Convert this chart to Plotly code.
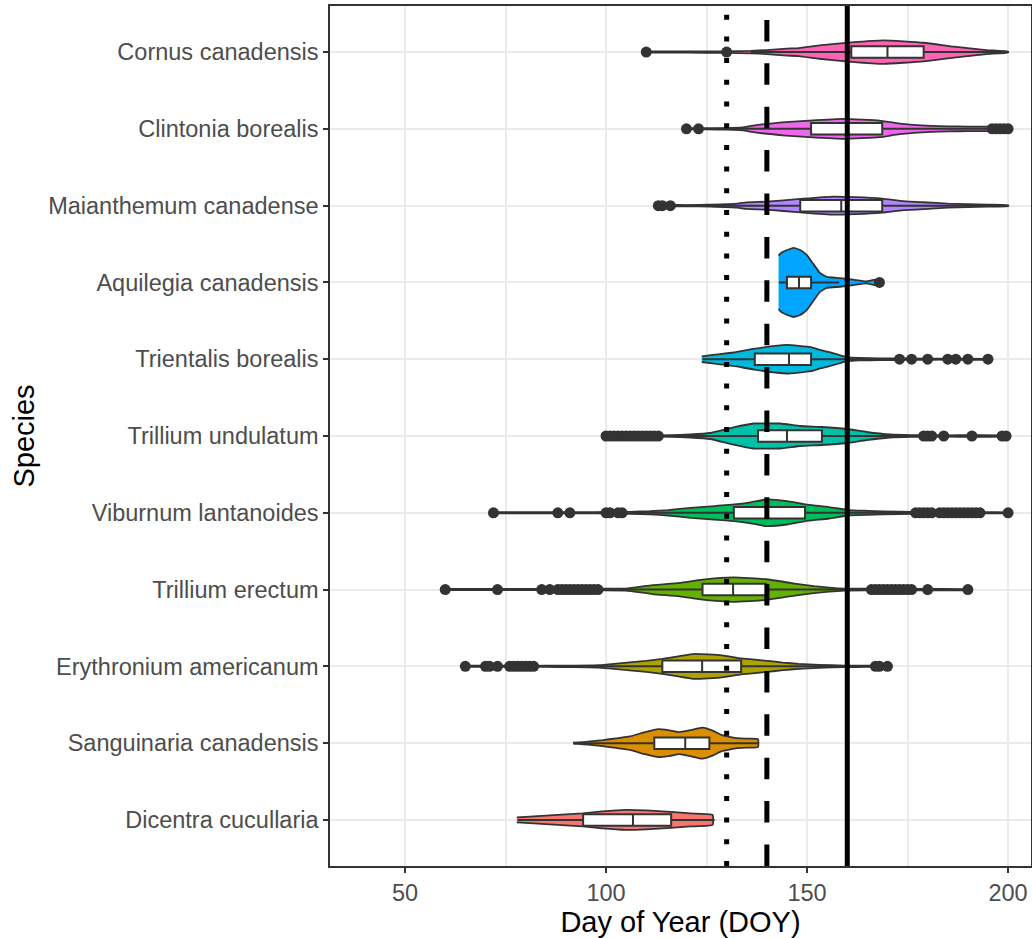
import plotly.graph_objects as go

# ---------------- data ----------------
species = ["Dicentra cucullaria", "Sanguinaria canadensis", "Erythronium americanum",
           "Trillium erectum", "Viburnum lantanoides", "Trillium undulatum",
           "Trientalis borealis", "Aquilegia canadensis", "Maianthemum canadense",
           "Clintonia borealis", "Cornus canadensis"]

colors = ["#F8766D", "#DB8E00", "#AEA200", "#64B200", "#00BD5C", "#00C1A7",
          "#00BADE", "#00A6FF", "#B385FF", "#EF67EB", "#FF63B6"]

# violin density profiles (relative density, max = 1)
dicentra_doy = [77.8, 82, 86, 90, 94.2, 99, 104.9, 110, 116.1, 121, 126.5]
dicentra_dens = [0.072, 0.101, 0.130, 0.159, 0.188, 0.246, 0.290, 0.275, 0.232, 0.188, 0.145]

sanguinaria_doy = [91.8, 95.5, 99.2, 102.5, 105.9, 109.7, 113, 115.5, 118.3, 121, 124, 126.5, 128.8, 132.6, 135.5, 137.8]
sanguinaria_dens = [0.014, 0.043, 0.087, 0.139, 0.194, 0.319, 0.406, 0.377, 0.319, 0.377, 0.449, 0.362, 0.232, 0.145, 0.130, 0.116]

erythronium_doy = [65, 75, 85, 92, 98.2, 102, 105.9, 110, 114, 118, 122.1, 128.8, 133.6, 140.2, 144, 147.9, 153, 159.3, 165, 170.5]
erythronium_dens = [0.017, 0.017, 0.017, 0.023, 0.035, 0.072, 0.116, 0.159, 0.217, 0.290, 0.362, 0.319, 0.232, 0.159, 0.110, 0.072, 0.043, 0.023, 0.017, 0.014]

t_erectum_doy = [60, 75, 90, 98, 104.9, 111.6, 118.3, 124, 131.7, 139.8, 146.9, 151.7, 155.5, 159.3, 166, 175, 190]
t_erectum_dens = [0.017, 0.017, 0.017, 0.023, 0.029, 0.130, 0.194, 0.290, 0.354, 0.299, 0.174, 0.101, 0.058, 0.029, 0.023, 0.017, 0.012]

viburnum_doy = [72, 85, 95, 100, 105.9, 111, 115.4, 121.1, 126, 131.9, 136, 139.8, 145, 149.6, 155.5, 160.3, 165, 168.9, 176.5, 185, 194, 200]
viburnum_dens = [0.017, 0.017, 0.017, 0.023, 0.029, 0.046, 0.078, 0.145, 0.188, 0.241, 0.304, 0.386, 0.339, 0.241, 0.165, 0.078, 0.058, 0.043, 0.029, 0.023, 0.017, 0.012]

t_undulatum_doy = [100, 110, 116, 121, 125.9, 131.7, 136.7, 143.3, 148.3, 153.7, 159.9, 164.8, 170.6, 176, 185, 199.5]
t_undulatum_dens = [0.017, 0.017, 0.023, 0.043, 0.087, 0.252, 0.362, 0.362, 0.290, 0.261, 0.203, 0.116, 0.043, 0.026, 0.020, 0.012]

trientalis_doy = [123.8, 127, 131.7, 137, 144.9, 150.9, 153.5, 156.5, 159.9, 163, 168, 175, 185, 195]
trientalis_dens = [0.081, 0.130, 0.194, 0.304, 0.414, 0.348, 0.261, 0.174, 0.058, 0.035, 0.026, 0.020, 0.014, 0.009]

aquilegia_doy = [142.9, 143.6, 144.9, 146.6, 148.3, 149.9, 151.6, 153.2, 154.9, 158.2, 161.5, 164.8, 166.5, 168]
aquilegia_dens = [0.774, 0.86, 0.93, 1.0, 0.94, 0.80, 0.53, 0.275, 0.159, 0.125, 0.078, 0.029, 0.072, 0.058]

maianthemum_doy = [113, 116, 120, 126, 132.6, 135, 140, 148.3, 156.5, 162, 168.7, 174, 181, 185, 190, 195, 200]
maianthemum_dens = [0.023, 0.023, 0.017, 0.029, 0.058, 0.096, 0.116, 0.194, 0.261, 0.246, 0.203, 0.130, 0.087, 0.058, 0.043, 0.029, 0.012]

clintonia_doy = [120, 125, 130, 134, 136.6, 144.7, 150.6, 159.3, 168, 173, 181, 185, 190, 195, 200]
clintonia_dens = [0.017, 0.017, 0.023, 0.043, 0.096, 0.194, 0.241, 0.290, 0.241, 0.154, 0.087, 0.072, 0.067, 0.064, 0.052]

cornus_doy = [110, 120, 130, 136, 140, 145, 148, 153, 161, 169, 179, 186.5, 194.6, 200]
cornus_dens = [0.017, 0.017, 0.023, 0.035, 0.058, 0.101, 0.116, 0.194, 0.281, 0.339, 0.270, 0.159, 0.058, 0.014]

# box-plot statistics (same order as species)
q1 = [94.3, 112, 114, 124, 131.8, 137.8, 137, 145, 148.3, 151, 161]
median = [106.7, 119.7, 123.9, 131.6, 140, 145, 145.5, 148, 158.5, 160, 170]
q3 = [116.2, 125.7, 133.6, 139.8, 149.5, 153.7, 151, 151, 168.7, 168.7, 179]
lower_whisker = [78, 92, 86, 101, 106, 115, 124, 143, 118, 127, 136]
upper_whisker = [127, 138, 162, 163, 176, 177, 170, 158, 199, 195, 200]

# outliers
dicentra_out = []
sanguinaria_out = []
erythronium_out = [65, 70, 71, 73, 76, 77, 78, 79, 80, 81, 82, 167, 168, 170]
t_erectum_out = [60, 73, 84, 86, 88, 89, 90, 91, 92, 93, 94, 95, 96, 97, 98,
                 166, 167, 168, 169, 170, 171, 172, 173, 174, 175, 176, 180, 190]
viburnum_out = [72, 88, 91, 100, 101, 103, 104,
                177, 178, 179, 180, 181, 183, 184, 185, 186, 187, 188, 189, 190, 191, 192, 193, 200]
t_undulatum_out = [100, 101, 102, 103, 104, 105, 106, 107, 108, 109, 110, 111, 112, 113,
                   179, 180, 181, 184, 191, 198.5, 199.5]
trientalis_out = [173, 176, 180, 185, 187, 190, 195]
aquilegia_out = [168]
maianthemum_out = [113, 114, 116]
clintonia_out = [120, 123, 196, 197, 198, 199, 200]
cornus_out = [110, 130]

# reference lines (DOY) and their line types
ref_lines = [130, 140, 160]
ref_dash = ["5px,16.7px", "21.5px,21.9px", "solid"]

profiles_doy = [dicentra_doy, sanguinaria_doy, erythronium_doy, t_erectum_doy, viburnum_doy,
                t_undulatum_doy, trientalis_doy, aquilegia_doy, maianthemum_doy, clintonia_doy, cornus_doy]
profiles_dens = [dicentra_dens, sanguinaria_dens, erythronium_dens, t_erectum_dens, viburnum_dens,
                 t_undulatum_dens, trientalis_dens, aquilegia_dens, maianthemum_dens, clintonia_dens, cornus_dens]
outliers = [dicentra_out, sanguinaria_out, erythronium_out, t_erectum_out, viburnum_out,
            t_undulatum_out, trientalis_out, aquilegia_out, maianthemum_out, clintonia_out, cornus_out]

# ---------------- styles ----------------
VIOLIN_WIDTH = 0.9
BOX_WIDTH = 0.15
OUTLINE = "#333333"
FONT = "Liberation Sans, Arial, sans-serif"
XRANGE = [31.34, 205.7]
YRANGE = [0.4, 11.6]

fig = go.Figure()

# violins on the main axes
for i, name in enumerate(species):
    pos = i + 1
    half = [VIOLIN_WIDTH / 2 * d for d in profiles_dens[i]]
    xs = profiles_doy[i] + profiles_doy[i][::-1]
    ys = [pos + h for h in half] + [pos - h for h in half[::-1]]
    fig.add_trace(go.Scatter(
        x=xs, y=ys, mode="lines", fill="toself", fillcolor=colors[i],
        line=dict(color=OUTLINE, width=1.8, shape="spline", smoothing=0.4),
        hoverinfo="skip", showlegend=False, name=name))

# boxes + outliers on an overlaid pair of axes (drawn above violins)
for i, name in enumerate(species):
    pos = i + 1
    fig.add_trace(go.Box(
        y=[pos], q1=[q1[i]], median=[median[i]], q3=[q3[i]],
        lowerfence=[lower_whisker[i]], upperfence=[upper_whisker[i]],
        orientation="h", width=BOX_WIDTH, whiskerwidth=0, fillcolor="white",
        line=dict(color=OUTLINE, width=2), boxpoints=False,
        xaxis="x2", yaxis="y2", hoverinfo="skip", showlegend=False, name=name))
    if outliers[i]:
        fig.add_trace(go.Scatter(
            x=outliers[i], y=[pos] * len(outliers[i]), mode="markers",
            marker=dict(color=OUTLINE, size=11, line=dict(width=0)),
            xaxis="x2", yaxis="y2", hoverinfo="skip", showlegend=False, name=name))

for xv, dash in zip(ref_lines, ref_dash):
    fig.add_shape(type="line", xref="x", yref="paper", x0=xv, x1=xv, y0=0, y1=1,
                  line=dict(color="black", width=5, dash=dash), layer="above")

axis_common = dict(
    showline=True, linecolor=OUTLINE, linewidth=1.5, mirror=True,
    ticks="outside", ticklen=5, tickwidth=1.5, tickcolor=OUTLINE,
    showgrid=True, gridcolor="#EBEBEB", gridwidth=2, zeroline=False, automargin=False,
    tickfont=dict(family=FONT, size=23.5, color="#4D4D4D"),
)

fig.update_layout(
    width=1032, height=938,
    margin=dict(l=330, r=1, t=6, b=72),
    plot_bgcolor="white", paper_bgcolor="white",
    showlegend=False,
    font=dict(family=FONT),
    xaxis=dict(range=XRANGE, tickvals=[50, 100, 150, 200],
               minor=dict(dtick=25, tick0=0, showgrid=True, gridcolor="#EBEBEB", gridwidth=1.5, ticks=""),
               title=dict(text="Day of Year (DOY)", font=dict(family=FONT, size=29, color="black"), standoff=8),
               **axis_common),
    yaxis=dict(range=YRANGE, tickvals=list(range(1, len(species) + 1)), ticktext=species,
               title=dict(text="Species", font=dict(family=FONT, size=29, color="black"), standoff=5),
               **axis_common),
    xaxis2=dict(overlaying="x", anchor="y2", range=XRANGE, visible=False),
    yaxis2=dict(overlaying="y", anchor="x2", range=YRANGE, visible=False),
)

fig.write_html("out.html", config={"displayModeBar": False},
               post_script="document.body.style.margin='0px';document.body.style.overflow='hidden';")
